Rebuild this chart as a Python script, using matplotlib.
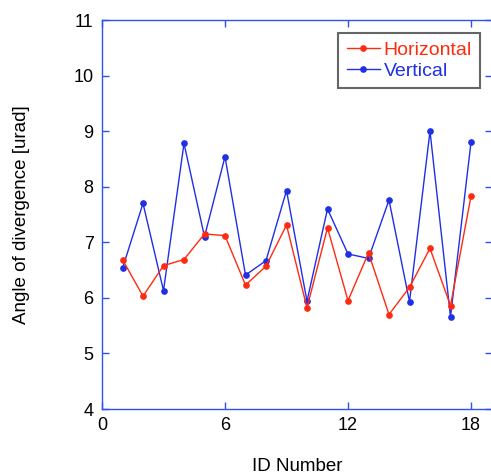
import matplotlib
matplotlib.use("Agg")
import matplotlib.pyplot as plt

plt.rcParams['font.family'] = ['Liberation Sans', 'DejaVu Sans']

id_numbers = list(range(1, 19))
horizontal = [6.69, 6.03, 6.58, 6.69, 7.15, 7.12, 6.23, 6.57, 7.31, 5.82,
              7.26, 5.95, 6.81, 5.70, 6.19, 6.89, 5.86, 7.83]
vertical = [6.53, 7.70, 6.13, 8.78, 7.10, 8.54, 6.41, 6.67, 7.93, 5.94,
            7.60, 6.79, 6.71, 7.76, 5.93, 9.00, 5.66, 8.80]
x_ticks = [0, 6, 12, 18]
y_ticks = [4, 5, 6, 7, 8, 9, 10, 11]

W, H = 491, 474
fig = plt.figure(figsize=(W / 100, H / 100), dpi=100)
ax = fig.add_axes([102 / W, (H - 409) / H, 389.5 / W, 389 / H])

blue = '#1f2fe6'
red = '#ff2a10'
lv, = ax.plot(id_numbers, vertical, '-o', color=blue, lw=1.0, ms=3.8, label='Vertical')
lh, = ax.plot(id_numbers, horizontal, '-o', color=red, lw=1.0, ms=3.8, label='Horizontal')

ax.set_xlim(0, 19)
ax.set_ylim(4, 11)
ax.set_xticks(x_ticks)
ax.set_yticks(y_ticks)
ax.tick_params(direction='in', length=5, width=1, color='#3050f0',
               top=True, right=True, labelsize=13, pad=6)
for s in ax.spines.values():
    s.set_color('#3050f0')
    s.set_linewidth(1.0)

ax.set_xlabel('ID Number', fontsize=13.5, labelpad=17)
ax.set_ylabel('Angle of divergence [urad]', fontsize=13.5, labelpad=31)

leg = ax.legend(handles=[lh, lv], loc='upper right',
                bbox_to_anchor=((480 - 102) / 389.5, 1 - (33 - 20) / 389),
                fontsize=14, frameon=True, fancybox=False, borderpad=0.42,
                handlelength=1.7, handletextpad=0.2, labelspacing=0.2, borderaxespad=0)
leg.get_frame().set_edgecolor('#404040')
leg.get_frame().set_linewidth(1.5)
for t, c in zip(leg.get_texts(), [red, blue]):
    t.set_color(c)

fig.savefig('out.png', dpi=100)
